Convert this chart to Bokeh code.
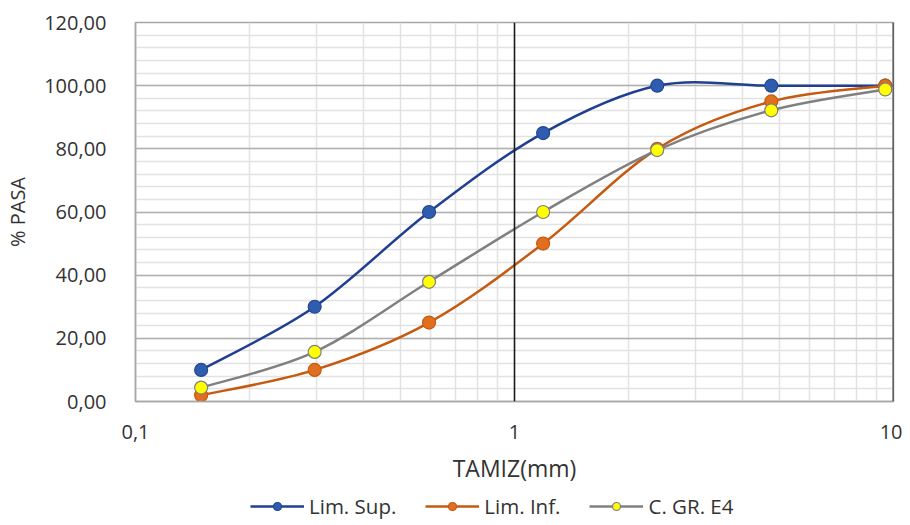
from bokeh.plotting import figure
from bokeh.layouts import column
from bokeh.models import (FixedTicker, CustomJSTickFormatter, Span, Legend, LegendItem,
                          ColumnDataSource)
from bokeh.embed import file_html
from bokeh.resources import INLINE
import numpy as np

# ---- data ----
sieve_mm = [0.149, 0.297, 0.595, 1.19, 2.38, 4.76, 9.51]
lim_sup = [10.0, 30.0, 60.0, 85.0, 100.0, 100.0, 100.0]
lim_inf = [2.0, 10.0, 25.0, 50.0, 80.0, 95.0, 100.0]
c_gr_e4 = [4.4, 15.7, 37.9, 60.0, 79.6, 92.2, 98.8]
series_names = ["Lim. Sup.", "Lim. Inf.", "C. GR. E4"]
y_ticks = [0, 20, 40, 60, 80, 100, 120]
x_ticks = [0.1, 1, 10]
x_tick_labels = ["0,1", "1", "10"]

FONT = "Open Sans"
W = 902

p = figure(width=W, height=486, x_axis_type="log", x_range=(0.1, 10), y_range=(0, 120),
           output_backend="svg", toolbar_location=None,
           min_border_left=135, min_border_right=9, min_border_top=22, min_border_bottom=84)
p.background_fill_color = "white"
p.border_fill_color = "white"
p.outline_line_color = "#a6a6a6"
p.outline_line_width = 1.5

# axes
p.xaxis.ticker = FixedTicker(ticks=x_ticks,
                             minor_ticks=[0.2, 0.3, 0.4, 0.5, 0.6, 0.7, 0.8, 0.9,
                                          2, 3, 4, 5, 6, 7, 8, 9])
p.xaxis.formatter = CustomJSTickFormatter(code="""
const labs = %s; const ts = %s;
for (let i = 0; i < ts.length; i++) { if (Math.abs(tick - ts[i]) < 1e-9) return labs[i]; }
return String(tick).replace('.', ',');
""" % (str(x_tick_labels), str(x_ticks)))
p.yaxis.ticker = FixedTicker(ticks=y_ticks, minor_ticks=list(range(0, 121, 4)))
p.yaxis.formatter = CustomJSTickFormatter(code="return tick.toFixed(2).replace('.', ',');")

for ax in (p.xaxis, p.yaxis):
    ax.major_tick_line_color = None
    ax.minor_tick_line_color = None
    ax.axis_line_color = "#a6a6a6"
    ax.axis_line_width = 1.5
    ax.major_label_text_font = FONT
    ax.major_label_text_font_size = "20px"
    ax.major_label_text_color = "#333333"
    ax.axis_label_text_font = FONT
    ax.axis_label_text_font_style = "normal"
    ax.axis_label_text_color = "#333333"

p.yaxis.major_label_standoff = 23
p.xaxis.major_label_standoff = 17
p.xaxis.axis_label = "TAMIZ(mm)"
p.xaxis.axis_label_text_font_size = "23px"
p.xaxis.axis_label_standoff = 10
p.yaxis.axis_label = "% PASA"
p.yaxis.axis_label_text_font_size = "20px"
p.yaxis.axis_label_standoff = 10

# grid
p.xgrid.grid_line_color = None
p.xgrid.minor_grid_line_color = "#e2e2e2"
p.xgrid.minor_grid_line_width = 1.5
p.ygrid.grid_line_color = "#b0b0b0"
p.ygrid.grid_line_width = 1.3
p.ygrid.minor_grid_line_color = "#e2e2e2"
p.ygrid.minor_grid_line_width = 1.5

p.add_layout(Span(location=1, dimension="height", line_color="#1a1a1a", line_width=1.6))
p.add_layout(Span(location=10, dimension="height", line_color="#1a1a1a", line_width=1.8))


def smooth_segments(xs, ys):
    """Cubic Bezier control points (Catmull-Rom style, like spreadsheet smoothing) in log-x space."""
    u = np.log10(np.asarray(xs, dtype=float))
    v = np.asarray(ys, dtype=float)
    n = len(u)
    up = np.concatenate([[u[0]], u, [u[-1]]])
    vp = np.concatenate([[v[0]], v, [v[-1]]])
    x0, y0, x1, y1, cx0, cy0, cx1, cy1 = ([] for _ in range(8))
    for i in range(n - 1):
        j = i + 1
        a_u, a_v = up[j - 1], vp[j - 1]
        b_u, b_v = up[j], vp[j]
        c_u, c_v = up[j + 1], vp[j + 1]
        d_u, d_v = up[j + 2], vp[j + 2]
        x0.append(10 ** b_u); y0.append(b_v)
        x1.append(10 ** c_u); y1.append(c_v)
        cx0.append(10 ** (b_u + (c_u - a_u) / 6)); cy0.append(b_v + (c_v - a_v) / 6)
        cx1.append(10 ** (c_u - (d_u - b_u) / 6)); cy1.append(c_v - (d_v - b_v) / 6)
    return dict(x0=x0, y0=y0, x1=x1, y1=y1, cx0=cx0, cy0=cy0, cx1=cx1, cy1=cy1)


styles = [
    (lim_sup, "#203f91", "#2e5db0", "#22478f"),
    (lim_inf, "#c55a11", "#e0701f", "#c55a11"),
    (c_gr_e4, "#808080", "#ffff00", "#7f7f7f"),
]

# separate strip below the chart that carries the legend
lf = figure(width=W, height=39, x_range=(0, 1), y_range=(-10, -5),
            output_backend="svg", toolbar_location=None, min_border=0)
lf.axis.visible = False
lf.grid.visible = False
lf.outline_line_color = None
lf.background_fill_color = "white"
lf.border_fill_color = "white"

items = []
for name, (vals, lc, fc, oc) in zip(series_names, styles):
    src = ColumnDataSource(smooth_segments(sieve_mm, vals))
    p.bezier(x0="x0", y0="y0", x1="x1", y1="y1", cx0="cx0", cy0="cy0", cx1="cx1", cy1="cy1",
             source=src, line_color=lc, line_width=2.5)
    p.scatter(sieve_mm, vals, size=13, marker="circle", fill_color=fc,
              line_color=oc, line_width=1.2)
    # legend keys (data lies outside this strip's range, so only the keys show)
    l1 = lf.line(sieve_mm, vals, line_color=lc, line_width=2.5)
    l2 = lf.scatter(sieve_mm, vals, size=11, marker="circle", fill_color=fc,
                    line_color=oc, line_width=1.2)
    items.append(LegendItem(label=name, renderers=[l1, l2]))

legend = Legend(items=items, orientation="horizontal", location=(115, 5),
                label_text_font=FONT, label_text_font_size="20.5px", label_text_color="#333333",
                border_line_color=None, background_fill_alpha=0,
                glyph_width=54, spacing=29, label_standoff=5, margin=0, padding=2)
lf.add_layout(legend)

layout = column(p, lf, spacing=0)
open("out.html", "w").write(file_html(layout, INLINE))
